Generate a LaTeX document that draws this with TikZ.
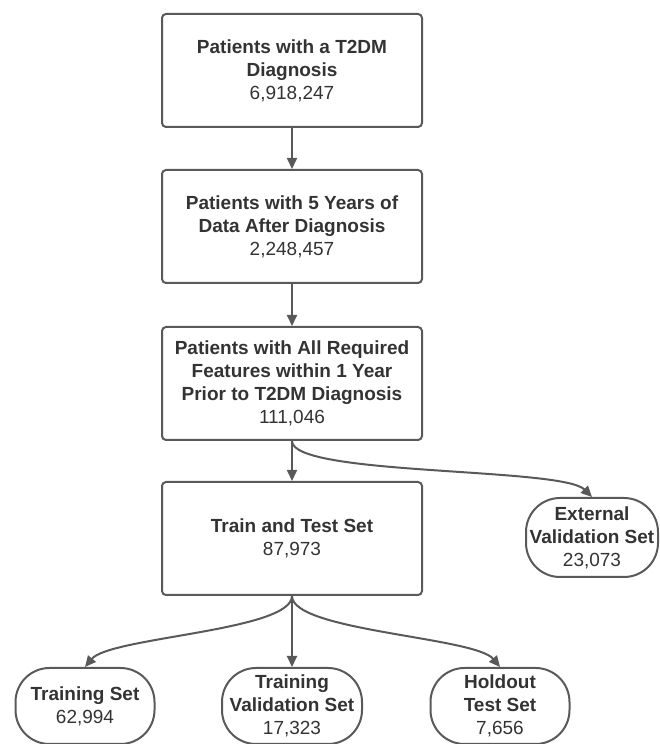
\documentclass[tikz,border=0pt]{standalone}
\usepackage{fontspec}
\setmainfont{Liberation Sans}
\usetikzlibrary{arrows.meta}
\definecolor{linegray}{HTML}{595959}
\definecolor{textgray}{HTML}{333333}
\tikzset{
  stepbox/.style={draw=linegray, line width=2pt, rounded corners=4pt,
    minimum width=260pt, minimum height=113pt, align=center, text=textgray,
    font=\fontsize{19}{23}\selectfont},
  setbox/.style={draw=linegray, line width=2pt, rounded corners=34pt,
    minimum width=139pt, minimum height=76pt, inner sep=0pt, align=center,
    text=textgray, font=\fontsize{19}{23}\selectfont},
  flow/.style={draw=linegray, line width=2pt, -{Triangle[length=11pt,width=10pt]}},
}
\begin{document}
\begin{tikzpicture}[x=1pt,y=1pt]
      \useasboundingbox (0,0) rectangle (659,744);
      \node[stepbox] (diag) at (292,673.5)
        {\textbf{Patients with a T2DM}\\\textbf{Diagnosis}\\6,918,247};
      \node[stepbox] (fiveyr) at (292,517.5)
        {\textbf{Patients with 5 Years of}\\\textbf{Data After Diagnosis}\\2,248,457};
      \node[stepbox] (feat) at (292,360.5)
        {\textbf{Patients with All Required}\\\textbf{Features within 1 Year}\\\textbf{Prior to T2DM Diagnosis}\\111,046};
      \node[stepbox] (traintest) at (292,205.5)
        {\textbf{Train and Test Set}\\87,973};
      \node[setbox, minimum width=132pt, minimum height=79pt] (ext) at (592,206.5)
        {\textbf{External}\\\textbf{Validation Set}\\23,073};
      \node[setbox] (train) at (85,38) {\textbf{Training Set}\\62,994};
      \node[setbox, minimum width=140pt] (valid) at (292,38)
        {\textbf{Training}\\\textbf{Validation Set}\\17,323};
      \node[setbox] (hold) at (500,38) {\textbf{Holdout}\\\textbf{Test Set}\\7,656};
      \begin{scope}[flow]
        \draw (diag) -- (fiveyr);
        \draw (fiveyr) -- (feat);
        \draw (feat) -- (traintest);
        \draw (feat.south) .. controls +(0,-35) and +(-30,30) .. (ext.north);
        \draw (traintest) -- (valid);
        \draw (traintest.south) .. controls +(0,-35) and +(25,30) .. (train.north);
        \draw (traintest.south) .. controls +(0,-35) and +(-25,30) .. (hold.north);
      \end{scope}
    \end{tikzpicture}
\end{document}
